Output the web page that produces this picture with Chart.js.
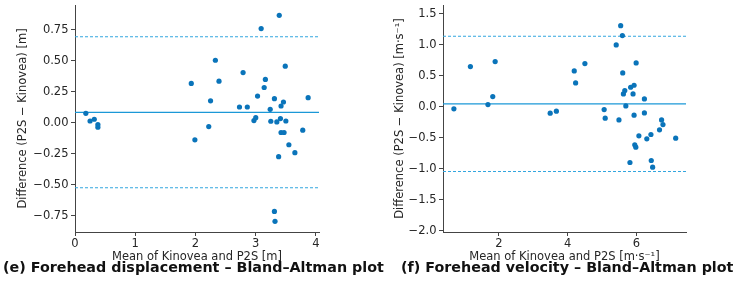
<!DOCTYPE html>
<html>
<head>
<meta charset="utf-8">
<script src="https://cdn.jsdelivr.net/npm/chart.js@4.4.0/dist/chart.umd.min.js"></script>
<style>
  body { margin: 0; background: #fff; }
  .wrap { position: relative; width: 739px; height: 290px; overflow: hidden; }
  .panel { position: absolute; top: 0; }
  .title { position: absolute; top: 259px; line-height: 18px; font: bold 14.3px "DejaVu Sans", sans-serif; color: #111; white-space: nowrap; }
</style>
</head>
<body>
<div class="wrap">
  <canvas class="panel js-disp" width="370" height="290" style="left:0"></canvas>
  <canvas class="panel js-vel" width="369" height="290" style="left:370px"></canvas>
  <div class="title" style="left:3px">(e) Forehead displacement – Bland–Altman plot</div>
  <div class="title" style="left:401px">(f) Forehead velocity – Bland–Altman plot</div>
</div>
<script>
// (e) displacement: mean of both methods [m] and difference P2S - Kinovea [m]
const dispMean = [0.18, 0.25, 0.32, 0.38, 0.38, 1.93, 1.99, 2.22, 2.25, 2.33, 2.39, 2.73, 2.79, 2.86, 2.97, 3.00,
  3.03, 3.09, 3.14, 3.16, 3.24, 3.25, 3.31, 3.31, 3.32, 3.35, 3.38, 3.39, 3.41, 3.42, 3.42, 3.46, 3.47, 3.49,
  3.50, 3.55, 3.65, 3.78, 3.87];
const dispDiff = [0.075, 0.013, 0.027, -0.016, -0.037, 0.316, -0.139, -0.032, 0.176, 0.503, 0.334, 0.126, 0.404,
  0.126, 0.016, 0.040, 0.214, 0.759, 0.283, 0.348, 0.107, 0.011, 0.193, -0.717, -0.797, 0.005, -0.275, 0.866,
  0.032, -0.080, 0.134, 0.166, -0.080, 0.455, 0.013, -0.179, -0.243, -0.061, 0.201];
const dispBias = 0.083;
const dispLoa = [-0.526, 0.693];
const dispXRange = [0, 4.05];
const dispYRange = [-0.883, 0.949];
const dispXTicks = [0, 1, 2, 3, 4];
const dispYTicks = [-0.75, -0.5, -0.25, 0, 0.25, 0.5, 0.75];

// (f) velocity: mean of both methods [m/s] and difference [m/s]
const velMean = [0.69, 1.17, 1.68, 1.82, 1.89, 3.49, 3.67, 4.19, 4.23, 4.50, 5.06, 5.09, 5.41, 5.49, 5.54, 5.59,
  5.60, 5.62, 5.66, 5.69, 5.81, 5.83, 5.90, 5.93, 5.93, 5.95, 5.98, 5.99, 6.07, 6.23, 6.23, 6.30, 6.42, 6.43,
  6.47, 6.67, 6.73, 6.77, 7.14];
const velDiff = [-0.032, 0.651, 0.038, 0.167, 0.731, -0.102, -0.070, 0.581, 0.387, 0.699, -0.043, -0.183, 1.0,
  -0.210, 1.312, 1.151, 0.548, 0.210, 0.263, 0.016, -0.898, 0.317, 0.210, 0.349, -0.134, -0.613, -0.651, 0.710,
  -0.468, 0.129, -0.097, -0.516, -0.446, -0.866, -0.973, -0.371, -0.210, -0.285, -0.505];
const velBias = 0.048;
const velLoa = [-1.043, 1.14];
const velXRange = [0.373, 7.44];
const velYRange = [-2.02, 1.645];
const velXTicks = [2, 4, 6];
const velYTicks = [-2, -1.5, -1, -0.5, 0, 0.5, 1, 1.5];

Chart.defaults.font.family = "'DejaVu Sans', sans-serif";
Chart.defaults.color = '#262626';

const minus = s => s.replace('-', '\u2212');

const hline = function(y, range, dashed){
  return {
    type: 'line',
    data: [{x: range[0], y: y}, {x: range[1], y: y}],
    showLine: true,
    pointRadius: 0,
    borderColor: dashed ? '#33a6df' : '#1b98d7',
    borderWidth: dashed ? 1.1 : 1.3,
    borderDash: dashed ? [3, 2] : [],
    fill: false
  }
}

const makeChart = function(canvas, o){
  const tickFont = {size: 11.5};
  const config = {
    type: 'scatter',
    data: {
      datasets: [{
        data: o.xs.map((x, i) => ({x: x, y: o.ys[i]})),
        backgroundColor: '#0a74ba',
        borderWidth: 0,
        pointRadius: 2.6
      },
      hline(o.bias, o.xRange, false),
      hline(o.loa[0], o.xRange, true),
      hline(o.loa[1], o.xRange, true)
      ]
    },
    options: {
      responsive: false,
      animation: false,
      layout: {padding: {left: o.padLeft, right: o.padRight, top: 5, bottom: 26}},
      plugins: {legend: {display: false}, tooltip: {enabled: false}},
      scales: {
        x: {
          type: 'linear',
          min: o.xRange[0],
          max: o.xRange[1],
          afterBuildTicks: s => { s.ticks = o.xTicks.map(v => ({value: v})) },
          afterFit: s => { s.height = 32; s.paddingLeft = 0; s.paddingRight = 0 },
          grid: {drawOnChartArea: false, drawTicks: true, tickLength: 4, tickColor: '#444'},
          border: {display: true, color: '#444', width: 1},
          ticks: {font: tickFont, padding: 1, maxRotation: 0, autoSkip: false, callback: v => minus(String(v))},
          title: {display: true, text: o.xTitle, font: tickFont, padding: 0}
        },
        y: {
          type: 'linear',
          min: o.yRange[0],
          max: o.yRange[1],
          afterBuildTicks: s => { s.ticks = o.yTicks.map(v => ({value: v})) },
          afterFit: s => { s.width = o.yWidth; s.paddingTop = 0; s.paddingBottom = 0 },
          grid: {drawOnChartArea: false, drawTicks: true, tickLength: 4, tickColor: '#444'},
          border: {display: true, color: '#444', width: 1},
          ticks: {font: tickFont, padding: 2.5, autoSkip: false, callback: v => minus(v.toFixed(o.digits))},
          title: {display: true, text: o.yTitle, font: tickFont, padding: 0}
        }
      }
    }
  }
  return new Chart(canvas, config)
}

document.addEventListener("DOMContentLoaded", function () {
  makeChart(document.querySelector('.js-disp'), {
    xs: dispMean, ys: dispDiff, bias: dispBias, loa: dispLoa,
    xRange: dispXRange, yRange: dispYRange, xTicks: dispXTicks, yTicks: dispYTicks, digits: 2,
    xTitle: 'Mean of Kinovea and P2S [m]', yTitle: 'Difference (P2S \u2212 Kinovea) [m]',
    padLeft: 16, yWidth: 59, padRight: 51
  });
  makeChart(document.querySelector('.js-vel'), {
    xs: velMean, ys: velDiff, bias: velBias, loa: velLoa,
    xRange: velXRange, yRange: velYRange, xTicks: velXTicks, yTicks: velYTicks, digits: 1,
    xTitle: 'Mean of Kinovea and P2S [m\u00b7s\u207b\u00b9]', yTitle: 'Difference (P2S \u2212 Kinovea) [m\u00b7s\u207b\u00b9]',
    padLeft: 23, yWidth: 50, padRight: 53
  });
});
</script>
</body>
</html>
